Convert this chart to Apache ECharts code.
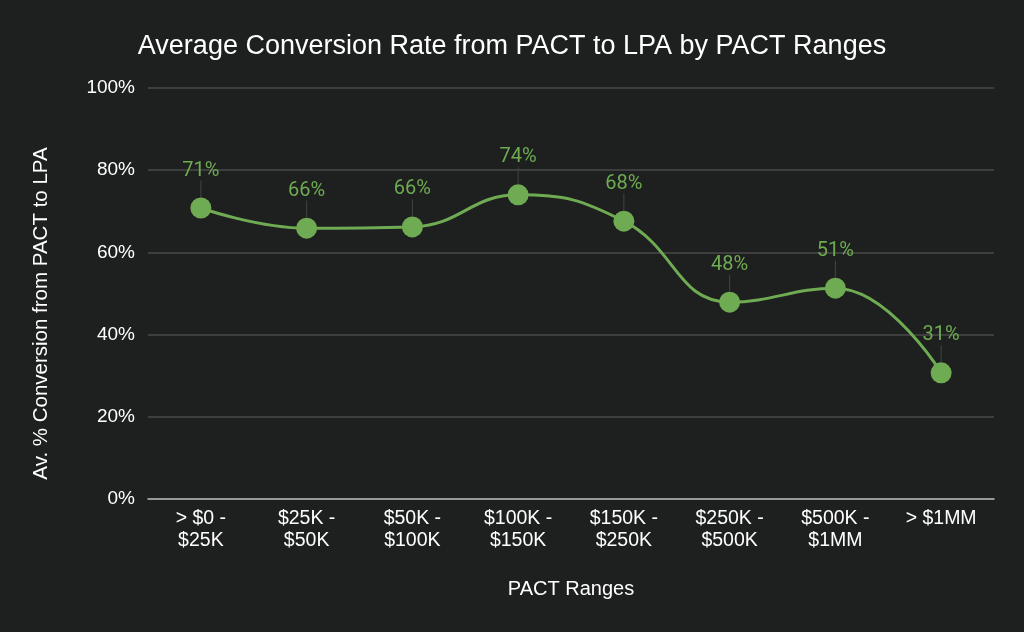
<!DOCTYPE html>
<html><head><meta charset="utf-8">
<script src="https://cdn.jsdelivr.net/npm/echarts@6/dist/echarts.min.js"></script>
<style>html,body{margin:0;padding:0;background:#1e1f1f;}#c{width:1024px;height:632px;}</style>
</head><body><div id="c"></div>
<script>
const categories = ['> $0 -\n$25K', '$25K -\n$50K', '$50K -\n$100K', '$100K -\n$150K', '$150K -\n$250K', '$250K -\n$500K', '$500K -\n$1MM', '> $1MM'];
const conversion = [70.8, 65.9, 66.2, 74.0, 67.6, 47.9, 51.3, 30.7];
const yTicks = [0, 20, 40, 60, 80, 100];

const F = 'Liberation Sans, Arial, sans-serif';
const chart = echarts.init(document.getElementById('c'));
chart.setOption({
  backgroundColor: '#1e1f1f',
  title: {
    text: 'Average Conversion Rate from PACT to LPA by PACT Ranges',
    left: 'center', top: 28,
    textStyle: {color: '#ffffff', fontSize: 27, fontWeight: 'normal', fontFamily: F}
  },
  grid: {left: 148, right: 30, top: 88, bottom: 133},
  xAxis: {
    type: 'category', data: categories, boundaryGap: true,
    name: 'PACT Ranges', nameLocation: 'middle', nameGap: 80,
    nameTextStyle: {color: '#ffffff', fontSize: 20, fontFamily: F},
    axisLine: {lineStyle: {color: '#b8b8b8', width: 1.5}},
    axisTick: {show: false},
    axisLabel: {color: '#ffffff', fontSize: 19.5, lineHeight: 22, margin: 9, interval: 0, fontFamily: F}
  },
  yAxis: {
    type: 'value', min: 0, max: 100, interval: 20,
    name: 'Av. % Conversion from PACT to LPA', nameLocation: 'middle', nameGap: 96,
    nameTextStyle: {color: '#ffffff', fontSize: 20.5, fontFamily: F, padding: [0, 40, 0, 0]},
    axisLine: {show: false}, axisTick: {show: false},
    axisLabel: {color: '#ffffff', fontSize: 19, margin: 13, fontFamily: F,
      formatter: v => yTicks.includes(v) ? v + '%' : ''},
    splitLine: {lineStyle: {color: '#4a4a4a', width: 1.5}}
  },
  series: [{
    type: 'line', data: conversion, smooth: 0.45,
    symbol: 'circle', symbolSize: 21,
    lineStyle: {color: '#6eab52', width: 3},
    itemStyle: {color: '#6eab52'},
    label: {
      show: true, position: 'top', distance: 17,
      color: '#6eab52', fontSize: 20, fontFamily: 'Roboto, Noto Sans, sans-serif',
      formatter: p => Math.round(p.value) + '%'
    },
    labelLine: {show: true, lineStyle: {color: '#444444', width: 1}},
    labelLayout: {dy: 0}
  }]
});
</script></body></html>
